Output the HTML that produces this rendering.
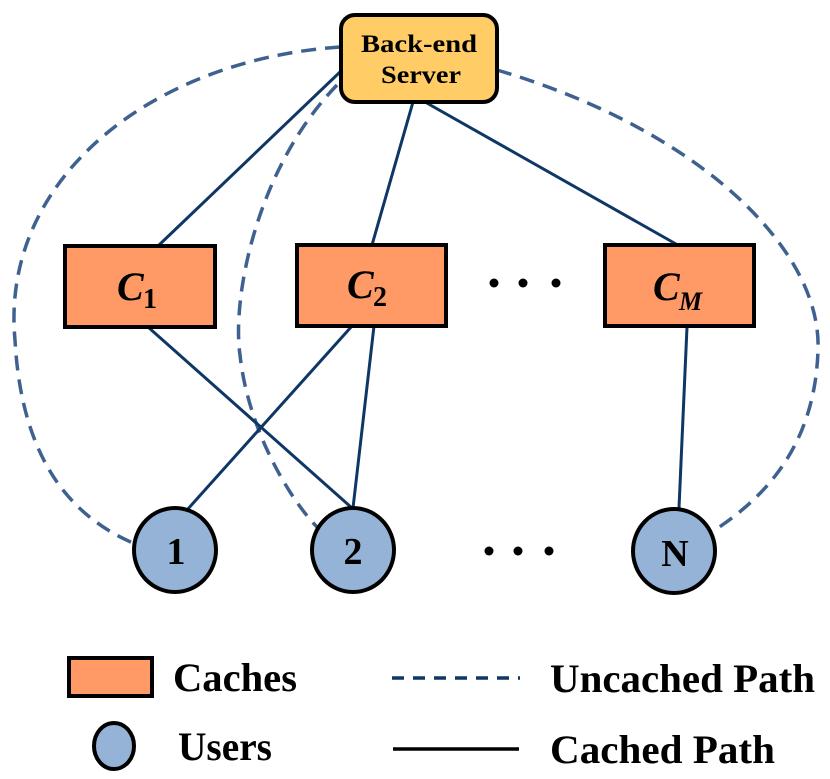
<!DOCTYPE html>
<html><head><meta charset="utf-8"><style>
html,body{margin:0;padding:0;background:#fff;}
svg{display:block;}
text{font-family:"Liberation Serif",serif;font-weight:bold;}
</style></head><body>
<svg width="830" height="779" viewBox="0 0 830 779" xmlns="http://www.w3.org/2000/svg">
<g fill="none" stroke="#3f6190" stroke-width="3.5" stroke-dasharray="15,9">
<path d="M340,47 C150,60 0,180 15,340 C22,470 80,520 133,543"/>
<path d="M337,85 C255,170 232,300 240,355 C248,430 290,500 318,528"/>
<path d="M497,70 C700,130 822,250 818,350 C815,450 760,500 715,530"/>
</g>
<g stroke="#0f3766" stroke-width="3">
<line x1="340" y1="72" x2="158" y2="246"/>
<line x1="413" y1="102" x2="372" y2="245"/>
<line x1="425" y1="102" x2="676" y2="244"/>
<line x1="148" y1="327" x2="352" y2="508"/>
<line x1="352" y1="326" x2="187" y2="510"/>
<line x1="374" y1="326" x2="353" y2="508"/>
<line x1="687" y1="327" x2="679" y2="508"/>
</g>
<rect x="341" y="15" width="156" height="87" rx="14" fill="#ffcc66" stroke="#000" stroke-width="4"/>
<text x="419" y="52" font-size="25" text-anchor="middle" textLength="116" lengthAdjust="spacingAndGlyphs">Back-end</text>
<text x="421" y="83" font-size="25" text-anchor="middle" textLength="80" lengthAdjust="spacingAndGlyphs">Server</text>
<g fill="#ff9966" stroke="#000" stroke-width="4">
<rect x="65" y="246" width="150" height="81"/>
<rect x="297" y="245" width="149" height="81"/>
<rect x="605" y="245" width="149" height="81"/>
</g>
<g font-family="Liberation Serif" font-style="italic">
<text x="117" y="300" font-size="40">C</text><text x="143" y="308" font-size="28" font-style="normal">1</text>
<text x="347" y="298" font-size="40">C</text><text x="373" y="306" font-size="28" font-style="normal">2</text>
<text x="653" y="300" font-size="40">C</text><text x="679" y="310" font-size="26">M</text>
</g>
<g fill="#000">
<circle cx="494" cy="283" r="4.5"/><circle cx="523" cy="283" r="4.5"/><circle cx="556" cy="283" r="4.5"/>
<circle cx="489" cy="551" r="4.5"/><circle cx="518" cy="551" r="4.5"/><circle cx="549" cy="551" r="4.5"/>
</g>
<g fill="#95b3d7" stroke="#000" stroke-width="4">
<ellipse cx="175" cy="550" rx="41" ry="42"/>
<ellipse cx="353" cy="550" rx="41" ry="42"/>
<ellipse cx="674" cy="551" rx="41" ry="42"/>
</g>
<text x="176" y="564" font-size="38" text-anchor="middle">1</text>
<text x="353" y="564" font-size="38" text-anchor="middle">2</text>
<text x="675" y="566" font-size="38" text-anchor="middle">N</text>
<rect x="69" y="658" width="83" height="38" fill="#ff9966" stroke="#000" stroke-width="4"/>
<ellipse cx="114" cy="746" rx="20" ry="23" fill="#95b3d7" stroke="#000" stroke-width="4"/>
<line x1="392" y1="678" x2="520" y2="678" stroke="#0f3766" stroke-width="3.5" stroke-dasharray="12,9"/>
<line x1="393" y1="749" x2="519" y2="749" stroke="#000" stroke-width="3.5"/>
<text x="173" y="691" font-size="40" textLength="124" lengthAdjust="spacingAndGlyphs">Caches</text>
<text x="178" y="760" font-size="40" textLength="94" lengthAdjust="spacingAndGlyphs">Users</text>
<text x="550" y="692" font-size="40" textLength="265" lengthAdjust="spacingAndGlyphs">Uncached Path</text>
<text x="550" y="763" font-size="40" textLength="225" lengthAdjust="spacingAndGlyphs">Cached Path</text>
</svg>
</body></html>
